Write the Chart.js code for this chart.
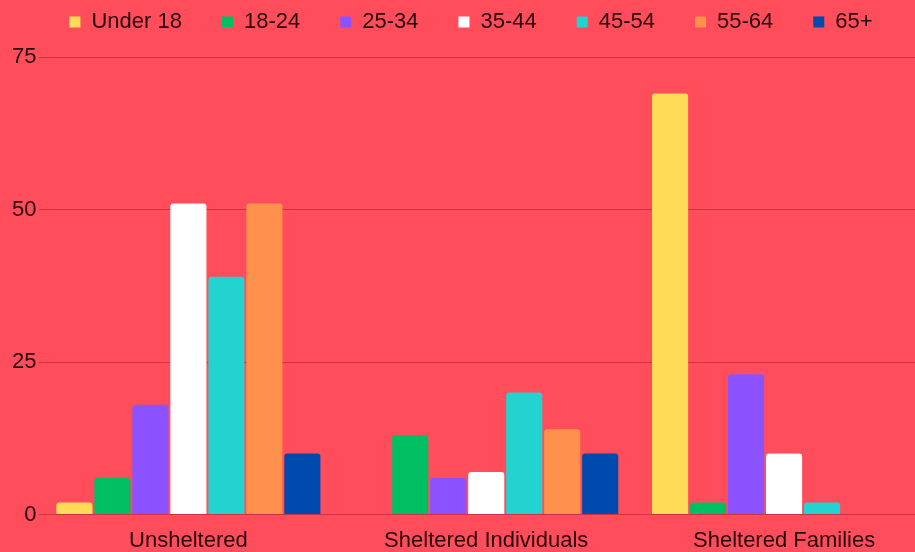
<!DOCTYPE html>
<html>
<head>
<meta charset="utf-8">
<script src="https://cdn.jsdelivr.net/npm/chart.js@4/dist/chart.umd.min.js"></script>
<style>
  html, body { margin: 0; padding: 0; overflow: hidden; background: #ff4d5b; }
  #wrap { position: absolute; left: 0; top: 0; width: 934px; height: 552px; }
</style>
</head>
<body>
<div id="wrap"><canvas id="ageChart"></canvas></div>
<script>
var groups = ['Unsheltered', 'Sheltered Individuals', 'Sheltered Families'];
var ageLabels = ['Under 18', '18-24', '25-34', '35-44', '45-54', '55-64', '65+'];
var under18 = [2, 0, 69];
var age18to24 = [6, 13, 2];
var age25to34 = [18, 6, 23];
var age35to44 = [51, 7, 10];
var age45to54 = [39, 20, 2];
var age55to64 = [51, 14, 0];
var age65plus = [10, 10, 0];
var yTicks = [0, 25, 50, 75];

var seriesValues = [under18, age18to24, age25to34, age35to44, age45to54, age55to64, age65plus];
var colors = ['#ffdb58', '#00bf63', '#8c52ff', '#ffffff', '#22d3d0', '#ff914d', '#004aad'];
var textColor = '#260609';
var fontFamily = 'Liberation Sans';

// legend padding is wide for the horizontal gaps, so squeeze it back vertically
var legendFix = {
    id: 'legendFix',
    beforeInit: function (chart) {
        var fit = chart.legend.fit;
        chart.legend.fit = function () {
            fit.bind(chart.legend)();
            this.height = 57;
        };
        var innerDraw = chart.legend._draw;
        chart.legend._draw = function () {
            var c = this.ctx;
            c.save();
            c.translate(0, -29);
            innerDraw.apply(this, arguments);
            c.restore();
        };
    }
};

var ctx = document.getElementById('ageChart').getContext('2d');
var datasets = [];
for (var i = 0; i < ageLabels.length; i++) {
    datasets.push({
        label: ageLabels[i],
        data: seriesValues[i],
        backgroundColor: colors[i],
        borderRadius: { topLeft: 3, topRight: 3 },
        borderSkipped: 'bottom',
        categoryPercentage: 0.893,
        barPercentage: 0.95
    });
}

var chart = new Chart(ctx, {
    type: 'bar',
    data: { labels: groups, datasets: datasets },
    plugins: [legendFix],
    options: {
        responsive: true,
        maintainAspectRatio: false,
        animation: false,
        layout: { padding: { left: 9, right: 1, top: 0, bottom: -15 } },
        plugins: {
            tooltip: { enabled: false },
            legend: {
                position: 'top',
                labels: {
                    usePointStyle: true,
                    pointStyle: 'rect',
                    boxHeight: 11,
                    boxWidth: 11,
                    padding: 40,
                    color: textColor,
                    font: { family: fontFamily, size: 22 }
                }
            }
        },
        scales: {
            x: {
                grid: { display: false, drawTicks: false },
                border: { display: false },
                ticks: {
                    color: textColor,
                    padding: 13,
                    font: { family: fontFamily, size: 22 }
                }
            },
            y: {
                min: 0,
                max: 75,
                afterBuildTicks: function (axis) {
                    axis.ticks = yTicks.map(function (v) { return { value: v }; });
                },
                grid: { color: 'rgba(140, 20, 35, 0.45)', lineWidth: 1, drawTicks: false },
                border: { display: false },
                ticks: {
                    color: textColor,
                    padding: 3,
                    font: { family: fontFamily, size: 22 }
                }
            }
        }
    }
});
</script>
</body>
</html>
